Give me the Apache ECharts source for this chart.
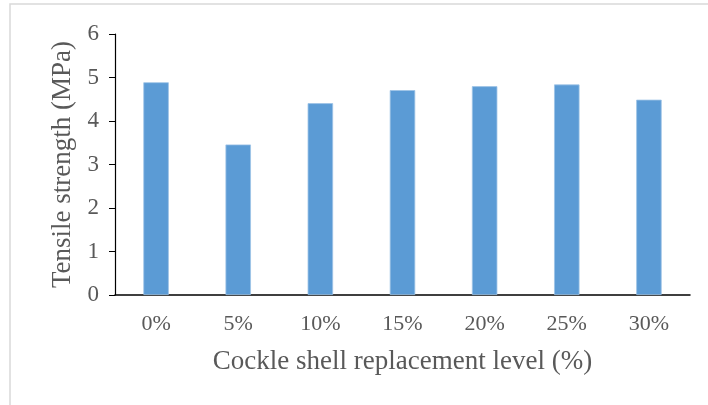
<!DOCTYPE html>
<html>
<head>
<meta charset="utf-8">
<script src="https://cdn.jsdelivr.net/npm/echarts@6/dist/echarts.min.js"></script>
<style>
html,body{margin:0;padding:0;background:#fff;}
#chart{width:708px;height:405px;}
</style>
</head>
<body>
<div id="chart"></div>
<script>
var categories = ['0%', '5%', '10%', '15%', '20%', '25%', '30%'];
var tensileStrength = [4.89, 3.46, 4.41, 4.71, 4.80, 4.84, 4.49];
var yTicks = [0, 1, 2, 3, 4, 5, 6];
var xTitle = 'Cockle shell replacement level (%)';
var yTitle = 'Tensile strength (MPa)';

var chart = echarts.init(document.getElementById('chart'), null, {renderer: 'canvas'});
var font = '"Liberation Serif", "Times New Roman", serif';
chart.setOption({
  animation: false,
  backgroundColor: '#ffffff',
  graphic: [{
    type: 'rect',
    shape: {x: 10, y: 4, width: 720, height: 420},
    style: {fill: 'none', stroke: '#d9d9d9', lineWidth: 1.5},
    silent: true
  }],
  grid: {left: 115, right: 18, top: 34, bottom: 110},
  xAxis: {
    type: 'category',
    data: categories,
    name: xTitle,
    nameLocation: 'middle',
    nameGap: 53,
    nameTextStyle: {fontFamily: font, fontSize: 27, color: '#595959'},
    axisLine: {lineStyle: {color: '#000000', width: 1.5}},
    axisTick: {show: false},
    axisLabel: {fontFamily: font, fontSize: 22, color: '#595959', margin: 18}
  },
  yAxis: {
    type: 'value',
    min: yTicks[0],
    max: yTicks[yTicks.length - 1],
    interval: 1,
    name: yTitle,
    nameLocation: 'middle',
    nameGap: 38,
    nameTextStyle: {fontFamily: font, fontSize: 27, color: '#595959'},
    axisLine: {show: true, lineStyle: {color: '#000000', width: 1.2}},
    axisTick: {show: true, length: 6, lineStyle: {color: '#000000', width: 1}},
    splitLine: {show: false},
    axisLabel: {fontFamily: font, fontSize: 23, color: '#595959', margin: 16}
  },
  series: [{
    type: 'bar',
    data: tensileStrength,
    barWidth: '31%',
    itemStyle: {color: '#5B9BD5', borderColor: '#9dc3e6', borderWidth: 0.8}
  }]
});
</script>
</body>
</html>
